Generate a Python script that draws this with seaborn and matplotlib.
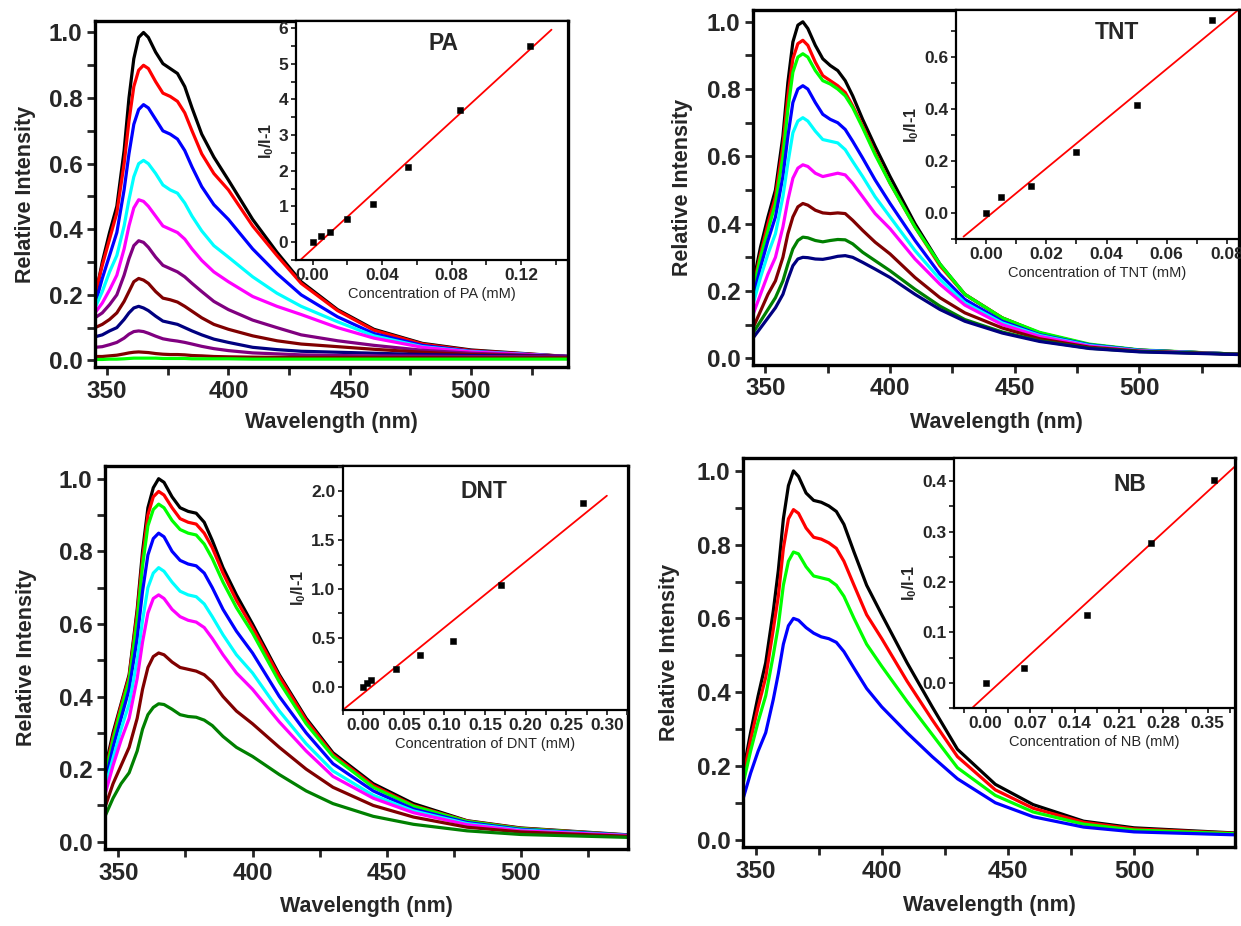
import numpy as np
import pandas as pd
import matplotlib
matplotlib.use("Agg")
import matplotlib.pyplot as plt
from matplotlib import font_manager
from matplotlib.ticker import MultipleLocator, FormatStrFormatter
import seaborn as sns

# ---------------- data ----------------
wavelength = [345, 348, 351, 354, 357, 359, 361, 363, 365, 367, 370, 373, 376, 379,
              382, 385, 389, 394, 400, 410, 420, 430, 445, 460, 480, 500, 540]

pa_black = [0.19, 0.30, 0.39, 0.47, 0.64, 0.80, 0.92, 0.985, 1.0, 0.985, 0.94, 0.905, 0.89, 0.875, 0.835, 0.77, 0.69, 0.62, 0.55, 0.43, 0.33, 0.24, 0.155, 0.095, 0.052, 0.032, 0.012]
pa_red = [0.20, 0.29, 0.37, 0.45, 0.60, 0.73, 0.835, 0.885, 0.90, 0.89, 0.85, 0.815, 0.805, 0.79, 0.755, 0.70, 0.63, 0.57, 0.52, 0.41, 0.32, 0.235, 0.152, 0.092, 0.05, 0.03, 0.012]
pa_blue = [0.17, 0.25, 0.32, 0.39, 0.52, 0.63, 0.72, 0.765, 0.78, 0.77, 0.735, 0.70, 0.69, 0.675, 0.64, 0.59, 0.53, 0.475, 0.43, 0.34, 0.265, 0.20, 0.133, 0.082, 0.046, 0.028, 0.012]
pa_cyan = [0.16, 0.21, 0.27, 0.32, 0.41, 0.49, 0.56, 0.60, 0.61, 0.60, 0.57, 0.535, 0.52, 0.51, 0.48, 0.44, 0.395, 0.35, 0.315, 0.255, 0.205, 0.165, 0.118, 0.075, 0.042, 0.027, 0.012]
pa_magenta = [0.145, 0.175, 0.215, 0.26, 0.34, 0.41, 0.465, 0.49, 0.485, 0.47, 0.44, 0.41, 0.40, 0.39, 0.37, 0.34, 0.305, 0.27, 0.24, 0.195, 0.165, 0.14, 0.10, 0.068, 0.04, 0.026, 0.012]
pa_purple = [0.13, 0.145, 0.17, 0.20, 0.26, 0.31, 0.35, 0.365, 0.36, 0.345, 0.315, 0.29, 0.28, 0.27, 0.255, 0.235, 0.21, 0.18, 0.155, 0.123, 0.10, 0.078, 0.06, 0.046, 0.031, 0.022, 0.012]
pa_maroon = [0.10, 0.11, 0.125, 0.145, 0.18, 0.21, 0.24, 0.25, 0.245, 0.235, 0.21, 0.19, 0.185, 0.178, 0.165, 0.15, 0.13, 0.11, 0.095, 0.075, 0.06, 0.05, 0.042, 0.034, 0.025, 0.018, 0.012]
pa_navy = [0.072, 0.078, 0.09, 0.10, 0.125, 0.145, 0.16, 0.165, 0.16, 0.152, 0.135, 0.12, 0.115, 0.11, 0.10, 0.09, 0.078, 0.065, 0.055, 0.04, 0.033, 0.028, 0.025, 0.022, 0.018, 0.015, 0.012]
pa_purple2 = [0.04, 0.042, 0.048, 0.055, 0.068, 0.08, 0.088, 0.09, 0.088, 0.083, 0.074, 0.066, 0.062, 0.059, 0.055, 0.05, 0.043, 0.036, 0.03, 0.023, 0.02, 0.017, 0.015, 0.014, 0.013, 0.012, 0.011]
pa_maroon2 = [0.012, 0.012, 0.014, 0.016, 0.02, 0.023, 0.025, 0.026, 0.025, 0.024, 0.021, 0.019, 0.018, 0.018, 0.017, 0.015, 0.014, 0.012, 0.011, 0.010, 0.0095, 0.009, 0.009, 0.0085, 0.0085, 0.008, 0.008]
pa_green = [0.003, 0.003, 0.004, 0.004, 0.005, 0.006, 0.007, 0.007, 0.007, 0.007, 0.007, 0.006, 0.006, 0.006, 0.006, 0.005, 0.005, 0.005, 0.005, 0.004, 0.004, 0.004, 0.004, 0.004, 0.004, 0.004, 0.004]

tnt_black = [0.22, 0.33, 0.42, 0.50, 0.66, 0.82, 0.94, 0.99, 1.0, 0.98, 0.93, 0.89, 0.87, 0.855, 0.825, 0.78, 0.71, 0.63, 0.54, 0.40, 0.28, 0.19, 0.12, 0.075, 0.04, 0.024, 0.012]
tnt_red = [0.21, 0.31, 0.40, 0.48, 0.63, 0.78, 0.89, 0.935, 0.945, 0.93, 0.88, 0.84, 0.825, 0.81, 0.79, 0.75, 0.69, 0.61, 0.52, 0.39, 0.275, 0.19, 0.12, 0.075, 0.04, 0.024, 0.012]
tnt_green = [0.20, 0.30, 0.38, 0.46, 0.60, 0.74, 0.85, 0.895, 0.905, 0.895, 0.855, 0.825, 0.815, 0.80, 0.78, 0.745, 0.685, 0.605, 0.52, 0.39, 0.28, 0.19, 0.12, 0.077, 0.042, 0.025, 0.012]
tnt_blue = [0.18, 0.27, 0.35, 0.42, 0.54, 0.66, 0.76, 0.80, 0.81, 0.80, 0.76, 0.725, 0.71, 0.70, 0.68, 0.645, 0.595, 0.53, 0.46, 0.35, 0.25, 0.175, 0.11, 0.07, 0.04, 0.024, 0.012]
tnt_cyan = [0.16, 0.24, 0.31, 0.37, 0.48, 0.58, 0.67, 0.705, 0.715, 0.705, 0.675, 0.65, 0.645, 0.64, 0.62, 0.585, 0.54, 0.48, 0.42, 0.32, 0.235, 0.165, 0.105, 0.068, 0.038, 0.023, 0.012]
tnt_magenta = [0.13, 0.19, 0.25, 0.30, 0.39, 0.47, 0.535, 0.565, 0.575, 0.57, 0.55, 0.54, 0.545, 0.55, 0.545, 0.52, 0.48, 0.43, 0.385, 0.295, 0.22, 0.158, 0.10, 0.065, 0.036, 0.022, 0.012]
tnt_maroon = [0.09, 0.14, 0.19, 0.23, 0.30, 0.37, 0.42, 0.45, 0.46, 0.455, 0.44, 0.432, 0.43, 0.432, 0.43, 0.41, 0.38, 0.345, 0.31, 0.24, 0.18, 0.135, 0.09, 0.058, 0.033, 0.021, 0.012]
tnt_dgreen = [0.075, 0.11, 0.145, 0.18, 0.23, 0.28, 0.325, 0.35, 0.36, 0.358, 0.35, 0.346, 0.35, 0.353, 0.352, 0.34, 0.315, 0.29, 0.26, 0.205, 0.155, 0.115, 0.078, 0.052, 0.03, 0.02, 0.012]
tnt_navy = [0.06, 0.09, 0.12, 0.15, 0.19, 0.235, 0.275, 0.295, 0.30, 0.299, 0.295, 0.294, 0.298, 0.303, 0.305, 0.30, 0.285, 0.265, 0.24, 0.19, 0.145, 0.11, 0.075, 0.05, 0.029, 0.019, 0.011]

dnt_black = [0.20, 0.30, 0.38, 0.46, 0.64, 0.80, 0.92, 0.975, 1.0, 0.99, 0.95, 0.92, 0.91, 0.905, 0.88, 0.83, 0.755, 0.68, 0.60, 0.46, 0.34, 0.245, 0.16, 0.105, 0.058, 0.038, 0.019]
dnt_red = [0.19, 0.29, 0.375, 0.455, 0.63, 0.78, 0.90, 0.95, 0.965, 0.955, 0.92, 0.89, 0.88, 0.875, 0.85, 0.81, 0.74, 0.665, 0.59, 0.455, 0.335, 0.24, 0.155, 0.10, 0.057, 0.037, 0.018]
dnt_green = [0.18, 0.28, 0.365, 0.445, 0.61, 0.76, 0.87, 0.915, 0.93, 0.92, 0.885, 0.86, 0.85, 0.845, 0.82, 0.78, 0.715, 0.645, 0.575, 0.44, 0.325, 0.235, 0.15, 0.098, 0.056, 0.036, 0.018]
dnt_blue = [0.16, 0.26, 0.34, 0.42, 0.56, 0.69, 0.79, 0.835, 0.85, 0.84, 0.80, 0.775, 0.765, 0.76, 0.74, 0.70, 0.64, 0.58, 0.52, 0.40, 0.30, 0.215, 0.14, 0.09, 0.053, 0.034, 0.018]
dnt_cyan = [0.15, 0.23, 0.31, 0.38, 0.50, 0.61, 0.70, 0.74, 0.755, 0.745, 0.715, 0.69, 0.68, 0.675, 0.655, 0.62, 0.57, 0.515, 0.465, 0.36, 0.27, 0.195, 0.128, 0.085, 0.05, 0.032, 0.017]
dnt_magenta = [0.13, 0.21, 0.28, 0.34, 0.45, 0.55, 0.63, 0.67, 0.68, 0.67, 0.64, 0.62, 0.61, 0.605, 0.59, 0.56, 0.515, 0.465, 0.42, 0.33, 0.25, 0.18, 0.12, 0.08, 0.047, 0.03, 0.017]
dnt_maroon = [0.095, 0.16, 0.21, 0.26, 0.34, 0.42, 0.48, 0.51, 0.52, 0.515, 0.495, 0.48, 0.475, 0.47, 0.46, 0.44, 0.40, 0.36, 0.325, 0.26, 0.20, 0.15, 0.10, 0.068, 0.04, 0.027, 0.015]
dnt_dgreen = [0.07, 0.12, 0.16, 0.19, 0.25, 0.31, 0.35, 0.37, 0.38, 0.378, 0.365, 0.35, 0.345, 0.343, 0.335, 0.32, 0.29, 0.26, 0.235, 0.185, 0.14, 0.105, 0.07, 0.048, 0.03, 0.02, 0.012]

nb_black = [0.18, 0.29, 0.39, 0.48, 0.62, 0.73, 0.87, 0.96, 1.0, 0.985, 0.94, 0.92, 0.915, 0.905, 0.89, 0.855, 0.78, 0.69, 0.61, 0.48, 0.36, 0.245, 0.15, 0.095, 0.05, 0.032, 0.018]
nb_red = [0.17, 0.27, 0.36, 0.44, 0.57, 0.66, 0.79, 0.87, 0.895, 0.885, 0.845, 0.82, 0.815, 0.805, 0.79, 0.755, 0.69, 0.61, 0.545, 0.43, 0.325, 0.225, 0.135, 0.085, 0.047, 0.029, 0.017]
nb_green = [0.15, 0.24, 0.32, 0.39, 0.50, 0.58, 0.69, 0.755, 0.78, 0.775, 0.74, 0.715, 0.71, 0.705, 0.69, 0.66, 0.60, 0.53, 0.47, 0.375, 0.285, 0.195, 0.12, 0.075, 0.042, 0.026, 0.016]
nb_blue = [0.11, 0.18, 0.24, 0.29, 0.38, 0.45, 0.53, 0.58, 0.60, 0.595, 0.575, 0.56, 0.55, 0.545, 0.535, 0.51, 0.465, 0.41, 0.36, 0.29, 0.225, 0.165, 0.10, 0.062, 0.034, 0.021, 0.013]

# Stern-Volmer insets
pa_conc = [0.0, 0.005, 0.01, 0.02, 0.035, 0.055, 0.085, 0.125]
pa_ratio = [0.0, 0.17, 0.28, 0.65, 1.07, 2.10, 3.70, 5.50]
tnt_conc = [0.0, 0.005, 0.015, 0.03, 0.05, 0.075]
tnt_ratio = [0.0, 0.06, 0.105, 0.235, 0.415, 0.74]
dnt_conc = [0.0, 0.005, 0.01, 0.04, 0.07, 0.11, 0.17, 0.27]
dnt_ratio = [0.0, 0.04, 0.07, 0.18, 0.32, 0.47, 1.04, 1.88]
nb_conc = [0.0, 0.06, 0.16, 0.26, 0.36]
nb_ratio = [0.0, 0.03, 0.135, 0.278, 0.403]

# ---------------- style ----------------
sns.set_theme(style="ticks")
names = {f.name for f in font_manager.fontManager.ttflist}
BASE = "Liberation Sans" if "Liberation Sans" in names else "DejaVu Sans"
plt.rcParams["font.family"] = [BASE, "DejaVu Sans"]
plt.rcParams["mathtext.fontset"] = "custom"
plt.rcParams["mathtext.rm"] = f"{BASE}:bold"
plt.rcParams["mathtext.it"] = f"{BASE}:bold"
plt.rcParams["mathtext.bf"] = f"{BASE}:bold"

C = {"black": "#000000", "red": "#ff0000", "blue": "#0000ff", "cyan": "#00ffff",
     "magenta": "#ff00ff", "purple": "#800080", "maroon": "#800000",
     "navy": "#000080", "green": "#00ff00", "dgreen": "#008000"}

fig = plt.figure(figsize=(12.41, 9.26), dpi=100)
W, H = 1241.0, 926.0


def box(l, r, t, b):
    return [l / W, 1 - b / H, (r - l) / W, (b - t) / H]


panels = [
    dict(rect=box(95, 568, 21, 367), inset=box(296, 568, 21, 260),
         curves=[(pa_black, "black"), (pa_red, "red"), (pa_blue, "blue"), (pa_cyan, "cyan"),
                 (pa_magenta, "magenta"), (pa_purple, "purple"), (pa_maroon, "maroon"),
                 (pa_navy, "navy"), (pa_purple2, "purple"), (pa_maroon2, "maroon"), (pa_green, "green")],
         conc=pa_conc, ratio=pa_ratio, name="PA", xlim=(-0.0095, 0.147), ylim=(-0.5, 6.2),
         xmaj=0.04, xmin=0.02, ymaj=1, ymin=0.5, xfmt="%.2f", yfmt="%d",
         fit=(-0.007, 0.1375), title=(0.544, 0.905), xpad=7, ypad=9),
    dict(rect=box(753, 1239, 10, 365), inset=box(956, 1239, 10, 239),
         curves=[(tnt_black, "black"), (tnt_red, "red"), (tnt_green, "green"), (tnt_blue, "blue"),
                 (tnt_cyan, "cyan"), (tnt_magenta, "magenta"), (tnt_maroon, "maroon"),
                 (tnt_dgreen, "dgreen"), (tnt_navy, "navy")],
         conc=tnt_conc, ratio=tnt_ratio, name="TNT", xlim=(-0.01, 0.084), ylim=(-0.1, 0.78),
         xmaj=0.02, xmin=0.01, ymaj=0.2, ymin=0.1, xfmt="%.2f", yfmt="%.1f",
         fit=(-0.0075, 0.084), title=(0.567, 0.90), xpad=8, ypad=10),
    dict(rect=box(105, 628, 466, 849), inset=box(343, 628, 466, 710),
         curves=[(dnt_black, "black"), (dnt_red, "red"), (dnt_green, "green"), (dnt_blue, "blue"),
                 (dnt_cyan, "cyan"), (dnt_magenta, "magenta"), (dnt_maroon, "maroon"),
                 (dnt_dgreen, "dgreen")],
         conc=dnt_conc, ratio=dnt_ratio, name="DNT", xlim=(-0.025, 0.326), ylim=(-0.24, 2.26),
         xmaj=0.05, xmin=0.025, ymaj=0.5, ymin=0.25, xfmt="%.2f", yfmt="%.1f",
         fit=(-0.025, 0.30), title=(0.493, 0.897), xpad=8, ypad=16),
    dict(rect=box(743, 1235, 458, 847), inset=box(954, 1235, 458, 708),
         curves=[(nb_black, "black"), (nb_red, "red"), (nb_green, "green"), (nb_blue, "blue")],
         conc=nb_conc, ratio=nb_ratio, name="NB", xlim=(-0.05, 0.393), ylim=(-0.05, 0.446),
         xmaj=0.07, xmin=0.035, ymaj=0.1, ymin=0.05, xfmt="%.2f", yfmt="%.1f",
         fit=(-0.02, 0.393), title=(0.626, 0.895), xpad=9, ypad=12),
]

for p in panels:
    ax = fig.add_axes(p["rect"])
    for vals, cname in p["curves"]:
        sns.lineplot(x=wavelength, y=vals, color=C[cname], lw=2.3, ax=ax, legend=False)
    ax.set_xlim(345, 540)
    ax.set_ylim(-0.02, 1.035)
    ax.xaxis.set_major_locator(MultipleLocator(50))
    ax.xaxis.set_minor_locator(MultipleLocator(25))
    ax.yaxis.set_major_locator(MultipleLocator(0.2))
    ax.yaxis.set_minor_locator(MultipleLocator(0.1))
    ax.yaxis.set_major_formatter(FormatStrFormatter("%.1f"))
    ax.tick_params(which="both", direction="out", length=6, width=2, top=False, right=False)
    for lab in ax.get_xticklabels() + ax.get_yticklabels():
        lab.set_fontsize(17.5)
        lab.set_fontweight("bold")
    ax.tick_params(axis="x", pad=3)
    ax.tick_params(axis="y", pad=3)
    for s in ax.spines.values():
        s.set_linewidth(2.4)
        s.set_color("black")
    ax.set_xlabel("Wavelength (nm)", fontsize=15.5, fontweight="bold", labelpad=p["xpad"])
    ax.set_ylabel("Relative Intensity", fontsize=15.5, fontweight="bold", labelpad=p["ypad"])

    # inset
    ia = fig.add_axes(p["inset"])
    ia.set_facecolor("white")
    sns.scatterplot(x=p["conc"], y=p["ratio"], marker="s", s=22, color="black",
                    edgecolor="black", ax=ia, zorder=3)
    slope, intercept = np.polyfit(p["conc"], p["ratio"], 1)
    fx = np.array(p["fit"])
    ia.plot(fx, slope * fx + intercept, color="red", lw=1.3, zorder=2)
    ia.set_xlim(*p["xlim"])
    ia.set_ylim(*p["ylim"])
    ia.xaxis.set_major_locator(MultipleLocator(p["xmaj"]))
    ia.xaxis.set_minor_locator(MultipleLocator(p["xmin"]))
    ia.yaxis.set_major_locator(MultipleLocator(p["ymaj"]))
    ia.yaxis.set_minor_locator(MultipleLocator(p["ymin"]))
    ia.xaxis.set_major_formatter(FormatStrFormatter(p["xfmt"]))
    ia.yaxis.set_major_formatter(FormatStrFormatter(p["yfmt"]))
    ia.tick_params(which="both", direction="out", length=3.5, width=1.3, pad=2,
                   top=False, right=False)
    for lab in ia.get_xticklabels() + ia.get_yticklabels():
        lab.set_fontsize(12.5)
        lab.set_fontweight("bold")
    for s in ia.spines.values():
        s.set_linewidth(1.6)
        s.set_color("black")
    ia.set_xlabel(f"Concentration of {p['name']} (mM)", fontsize=10.5, labelpad=3)
    ia.set_ylabel("I$_\\mathregular{0}$/I-1", fontsize=11.5, fontweight="bold", labelpad=2)
    ia.text(p["title"][0], p["title"][1], p["name"], transform=ia.transAxes,
            ha="center", va="center", fontsize=16.5, fontweight="bold")

fig.savefig("out.png", dpi=100)
